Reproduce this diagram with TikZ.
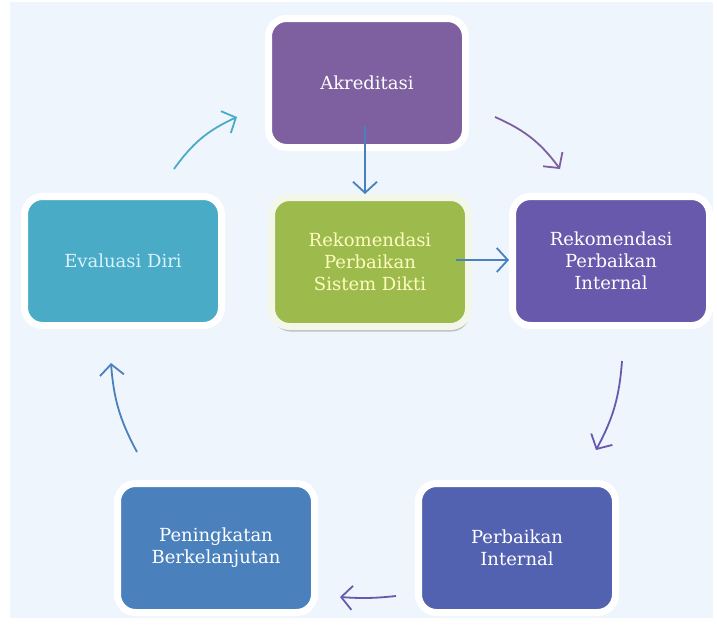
\documentclass[tikz,border=0pt]{standalone}
\usepackage{fontspec}
\setmainfont{DejaVu Serif}
\usetikzlibrary{arrows.meta,shadows}
\definecolor{latar}{HTML}{EEF5FC}
\definecolor{ungu}{HTML}{7E5FA0}
\definecolor{tosca}{HTML}{4AABC6}
\definecolor{hijau}{HTML}{9CBB4C}
\definecolor{nila}{HTML}{6859AC}
\definecolor{biru}{HTML}{5262B0}
\definecolor{birumuda}{HTML}{4A81BD}
\tikzset{kotak/.style={rectangle,rounded corners=18pt,draw=white,line width=7pt,
    minimum width=197pt,minimum height=129pt,align=center,text=white,
    font=\fontsize{18}{22}\selectfont},
  panah/.style={line width=1.8pt,-{Straight Barb[length=11pt,width=24pt]}}}

\begin{document}
\begin{tikzpicture}[x=1pt,y=-1pt]
    \useasboundingbox (0,0) rectangle (717,630);
    \fill[latar] (10,2) rectangle (713,618);
    \node[kotak,fill=ungu] (akr) at (367,83) {Akreditasi};
    \node[kotak,fill=tosca,text=white!85!cyan] (eval) at (123,261) {Evaluasi Diri};
    \node[kotak,fill=hijau,draw=white!88!hijau,text=yellow!25!white,
        drop shadow={shadow xshift=1pt,shadow yshift=-5pt,opacity=0.45}] (dikti) at (370,262)
        {Rekomendasi\\Perbaikan\\Sistem Dikti};
    \node[kotak,fill=nila] (rekom) at (611,261) {Rekomendasi\\Perbaikan\\Internal};
    \node[kotak,fill=biru] (perb) at (517,548) {Perbaikan\\Internal};
    \node[kotak,fill=birumuda] (ning) at (216,548) {Peningkatan\\Berkelanjutan};
    \draw[panah,tosca] ([xshift=51pt,yshift=24pt]eval.north) to[bend left=15] ([xshift=-28pt,yshift=-34pt]akr.west);
    \draw[panah,ungu] ([xshift=26pt,yshift=-34pt]akr.east) to[bend left=15] ([xshift=-51pt,yshift=24pt]rekom.north);
    \draw[panah,birumuda] ([xshift=-2pt,yshift=25pt]akr.south) -- ([xshift=-2pt]akr.south |- dikti.north);
    \draw[panah,birumuda] ([xshift=-16pt,yshift=2pt]dikti.east) -- ([yshift=2pt]dikti.east -| rekom.west);
    \draw[panah,nila] ([xshift=11pt,yshift=-32pt]rekom.south) to[bend left=12] ([xshift=79pt,yshift=30pt]perb.north);
    \draw[panah,nila] ([xshift=-19pt,yshift=-48pt]perb.west) to[bend left=5] ([xshift=22pt,yshift=-49pt]ning.east);
    \draw[panah,birumuda] ([xshift=-79pt,yshift=28pt]ning.north) to[bend left=12] ([xshift=-12pt,yshift=-34pt]eval.south);
\end{tikzpicture}
\end{document}
